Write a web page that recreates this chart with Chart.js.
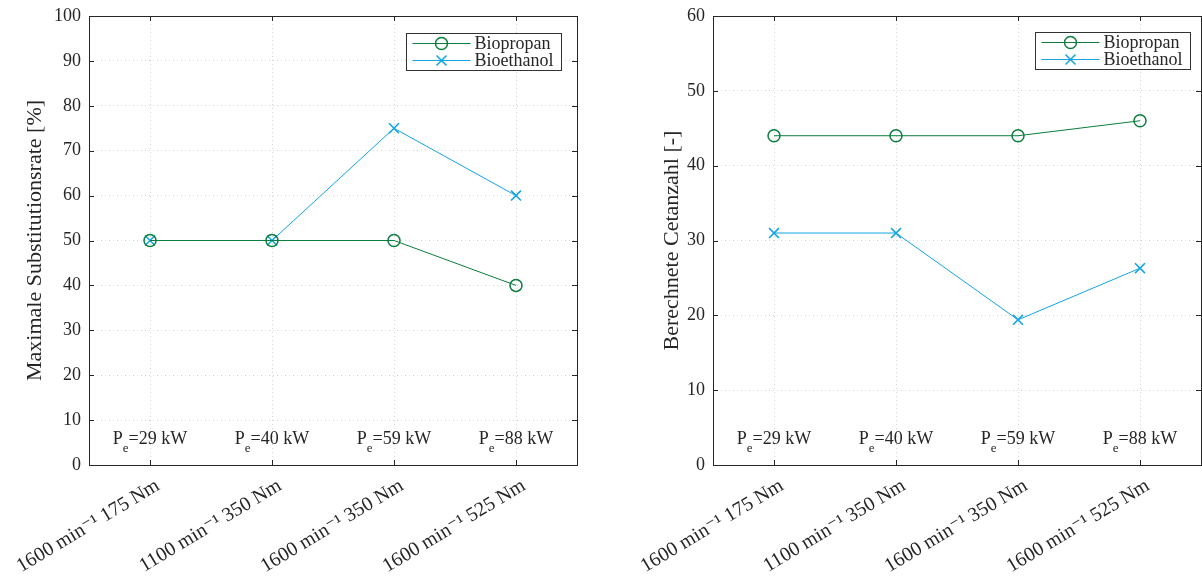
<!DOCTYPE html>
<html>
<head>
<meta charset="utf-8">
<script src="https://cdn.jsdelivr.net/npm/chart.js@4/dist/chart.umd.min.js"></script>
<style>
    html, body { margin: 0; padding: 0; background: #fff; overflow: hidden; }
    body { width: 1202px; height: 579px; position: relative; }
    canvas { position: absolute; top: 0; }
    #subst-chart { left: 0; }
    #cetan-chart { left: 624px; }
</style>
</head>
<body>
<canvas id="subst-chart" width="600" height="579"></canvas>
<canvas id="cetan-chart" width="600" height="579"></canvas>
<script>
const categories = ['1600 min⁻¹ 175 Nm', '1100 min⁻¹ 350 Nm', '1600 min⁻¹ 350 Nm', '1600 min⁻¹ 525 Nm'];
const powerLabels = ['29', '40', '59', '88'];
const substBiopropan = [50, 50, 50, 40];
const substBioethanol = [50, 50, 75, 60];
const cetanBiopropan = [44, 44, 44, 46];
const cetanBioethanol = [31, 31, 19.4, 26.3];

const GREEN = '#0b7d3e';
const BLUE = '#12a4e3';
const TEXT = '#262626';
const FONT = "'Liberation Serif', 'DejaVu Serif', serif";

// box round the plot with inward tick marks
const framePlugin = {
    id: 'frame',
    afterDatasetsDraw(chart) {
        const { ctx, chartArea: a, scales } = chart;
        ctx.save();
        ctx.strokeStyle = TEXT;
        ctx.lineWidth = 1;
        ctx.strokeRect(Math.round(a.left) + 0.5, Math.round(a.top) + 0.5,
            Math.round(a.right - a.left), Math.round(a.bottom - a.top));
        ctx.beginPath();
        scales.y.ticks.forEach((t, i) => {
            const y = Math.round(scales.y.getPixelForTick(i)) + 0.5;
            ctx.moveTo(a.left, y); ctx.lineTo(a.left + 5, y);
            ctx.moveTo(a.right, y); ctx.lineTo(a.right - 5, y);
        });
        scales.x.ticks.forEach((t, i) => {
            const x = Math.round(scales.x.getPixelForTick(i)) + 0.5;
            ctx.moveTo(x, a.bottom); ctx.lineTo(x, a.bottom - 5);
            ctx.moveTo(x, a.top); ctx.lineTo(x, a.top + 5);
        });
        ctx.stroke();
        ctx.restore();
    }
};

// "P_e=.. kW" under each operating point
const powerPlugin = {
    id: 'power',
    afterDatasetsDraw(chart) {
        const { ctx, chartArea: a, scales } = chart;
        ctx.save();
        ctx.fillStyle = TEXT;
        ctx.textBaseline = 'alphabetic';
        ctx.textAlign = 'left';
        const big = '18px ' + FONT;
        const small = '13px ' + FONT;
        powerLabels.forEach((p, i) => {
            const x = scales.x.getPixelForValue(i);
            const rest = '=' + p + ' kW';
            ctx.font = big;
            const wP = ctx.measureText('P').width;
            const wRest = ctx.measureText(rest).width;
            ctx.font = small;
            const wE = ctx.measureText('e').width;
            let x0 = x - (wP + wE + wRest) / 2;
            const y = a.bottom - 21;
            ctx.font = big;
            ctx.fillText('P', x0, y);
            ctx.font = small;
            ctx.fillText('e', x0 + wP, y + 8);
            ctx.font = big;
            ctx.fillText(rest, x0 + wP + wE, y);
        });
        ctx.restore();
    }
};

// legend box inside the plot, upper right
const boxLegendPlugin = {
    id: 'boxLegend',
    afterDraw(chart, args, opts) {
        const { ctx, chartArea: a } = chart;
        const w = 155, h = 37;
        const x0 = Math.round(a.right - opts.right - w) + 0.5;
        const y0 = Math.round(a.top + opts.top) + 0.5;
        ctx.save();
        ctx.fillStyle = '#fff';
        ctx.fillRect(x0, y0, w, h);
        ctx.strokeStyle = '#333';
        ctx.lineWidth = 1;
        ctx.strokeRect(x0, y0, w, h);
        ctx.font = '18px ' + FONT;
        ctx.textBaseline = 'middle';
        ctx.fillStyle = TEXT;
        chart.data.datasets.forEach((ds, i) => {
            const y = y0 + 10 + i * 17;
            ctx.strokeStyle = ds.borderColor;
            ctx.lineWidth = 1;
            ctx.beginPath();
            ctx.moveTo(x0 + 6, y); ctx.lineTo(x0 + 64, y);
            ctx.stroke();
            const mx = x0 + 35;
            ctx.lineWidth = 1.5;
            ctx.beginPath();
            if (ds.pointStyle === 'circle') {
                ctx.arc(mx, y, 6, 0, Math.PI * 2);
            } else {
                ctx.moveTo(mx - 5, y - 5); ctx.lineTo(mx + 5, y + 5);
                ctx.moveTo(mx + 5, y - 5); ctx.lineTo(mx - 5, y + 5);
            }
            ctx.stroke();
            ctx.fillText(ds.label, x0 + 68, y + 1);
        });
        ctx.restore();
    }
};

function makeChart(id, propan, ethanol, yMax, yTitle, titlePad, legendPos) {
    return new Chart(document.getElementById(id), {
        type: 'line',
        data: {
            labels: categories,
            datasets: [{
                label: 'Biopropan',
                data: propan,
                borderColor: GREEN,
                borderWidth: 1,
                pointStyle: 'circle',
                pointRadius: 6,
                pointBorderWidth: 1.5,
                pointBorderColor: GREEN,
                pointBackgroundColor: 'rgba(0,0,0,0)',
                tension: 0
            }, {
                label: 'Bioethanol',
                data: ethanol,
                borderColor: BLUE,
                borderWidth: 1,
                pointStyle: 'crossRot',
                pointRadius: 7,
                pointBorderWidth: 1.6,
                pointBorderColor: BLUE,
                tension: 0
            }]
        },
        options: {
            responsive: false,
            animation: false,
            events: [],
            layout: { padding: { top: 16, right: 23, left: 0, bottom: 0 } },
            plugins: {
                legend: { display: false },
                tooltip: { enabled: false },
                boxLegend: legendPos
            },
            scales: {
                x: {
                    offset: true,
                    grid: { offset: false, color: '#d6d6d6', drawTicks: false },
                    border: { display: false, dash: [1, 3] },
                    ticks: {
                        color: TEXT,
                        font: { family: FONT, size: 20 },
                        minRotation: 31,
                        maxRotation: 31,
                        padding: 9,
                        labelOffset: 8,
                        autoSkip: false
                    },
                    afterFit(scale) {
                        scale.height = 114;
                        scale.paddingLeft = 0;
                        scale.paddingRight = 0;
                    }
                },
                y: {
                    min: 0,
                    max: yMax,
                    grid: { color: '#d6d6d6', drawTicks: false },
                    border: { display: false, dash: [1, 3] },
                    ticks: {
                        stepSize: 10,
                        color: TEXT,
                        font: { family: FONT, size: 18 },
                        padding: 8
                    },
                    title: {
                        display: true,
                        text: yTitle,
                        color: TEXT,
                        font: { family: FONT, size: 22 },
                        padding: { top: titlePad, bottom: 0 }
                    },
                    afterFit(scale) {
                        scale.width = 89;
                        scale.paddingTop = 0;
                        scale.paddingBottom = 0;
                    }
                }
            }
        },
        plugins: [framePlugin, powerPlugin, boxLegendPlugin]
    });
}

makeChart('subst-chart', substBiopropan, substBioethanol, 100,
    'Maximale Substitutionsrate [%]', 22, { right: 16, top: 17 });
makeChart('cetan-chart', cetanBiopropan, cetanBioethanol, 60,
    'Berechnete Cetanzahl [-]', 35, { right: 11, top: 16 });
</script>
</body>
</html>
